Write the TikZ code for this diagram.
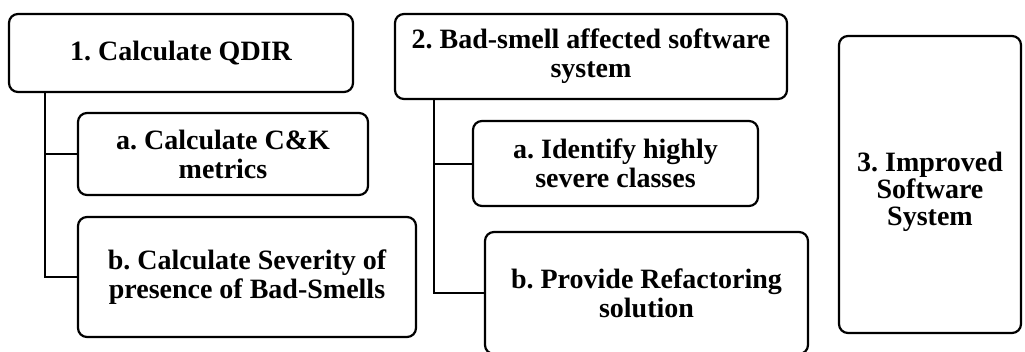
\documentclass[tikz,border=0pt]{standalone}
\usepackage{fontspec}
\setmainfont{Liberation Serif}
\frenchspacing
\begin{document}
\begin{tikzpicture}[x=1pt,y=-1pt,
  box/.style={draw=black,line width=2.2pt,rounded corners=9pt,inner sep=0pt,align=center,
    font=\fontsize{28}{29}\selectfont\bfseries},
  link/.style={draw=black,line width=2pt}]
\useasboundingbox (0,0) rectangle (1025,351);
\node[box,minimum width=344pt,minimum height=78pt] (b1) at (181,53) {1. Calculate QDIR};
\node[box,minimum width=290pt,minimum height=82pt] (b1a) at (223,154) {a. Calculate C\&K\\metrics};
\node[box,minimum width=338pt,minimum height=120pt] (b1b) at (247,277) {b. Calculate Severity of\\presence of Bad-Smells};
\node[box,minimum width=392pt,minimum height=85pt] (b2) at (591,56.5) {2. Bad-smell affected software\\system};
\node[box,minimum width=285pt,minimum height=85pt] (b2a) at (615.5,163.5) {a. Identify highly\\severe classes};
\node[box,minimum width=323pt,minimum height=122pt] (b2b) at (646.5,293) {b. Provide Refactoring\\solution};
\node[box,minimum width=182pt,minimum height=297pt,font=\fontsize{28}{26}\selectfont\bfseries] (b3) at (930,184.5)
  {\raisebox{-14pt}[0pt][0pt]{\begin{tabular}{@{}c@{}}3. Improved\\Software\\System\end{tabular}}};
\coordinate (t1) at (45,92);
\coordinate (t2) at (434,99);
\draw[link] (t1) |- (b1a.west);
\draw[link] (t1) |- (b1b.west);
\draw[link] (t2) |- (b2a.west);
\draw[link] (t2) |- (b2b.west);
\end{tikzpicture}
\end{document}
